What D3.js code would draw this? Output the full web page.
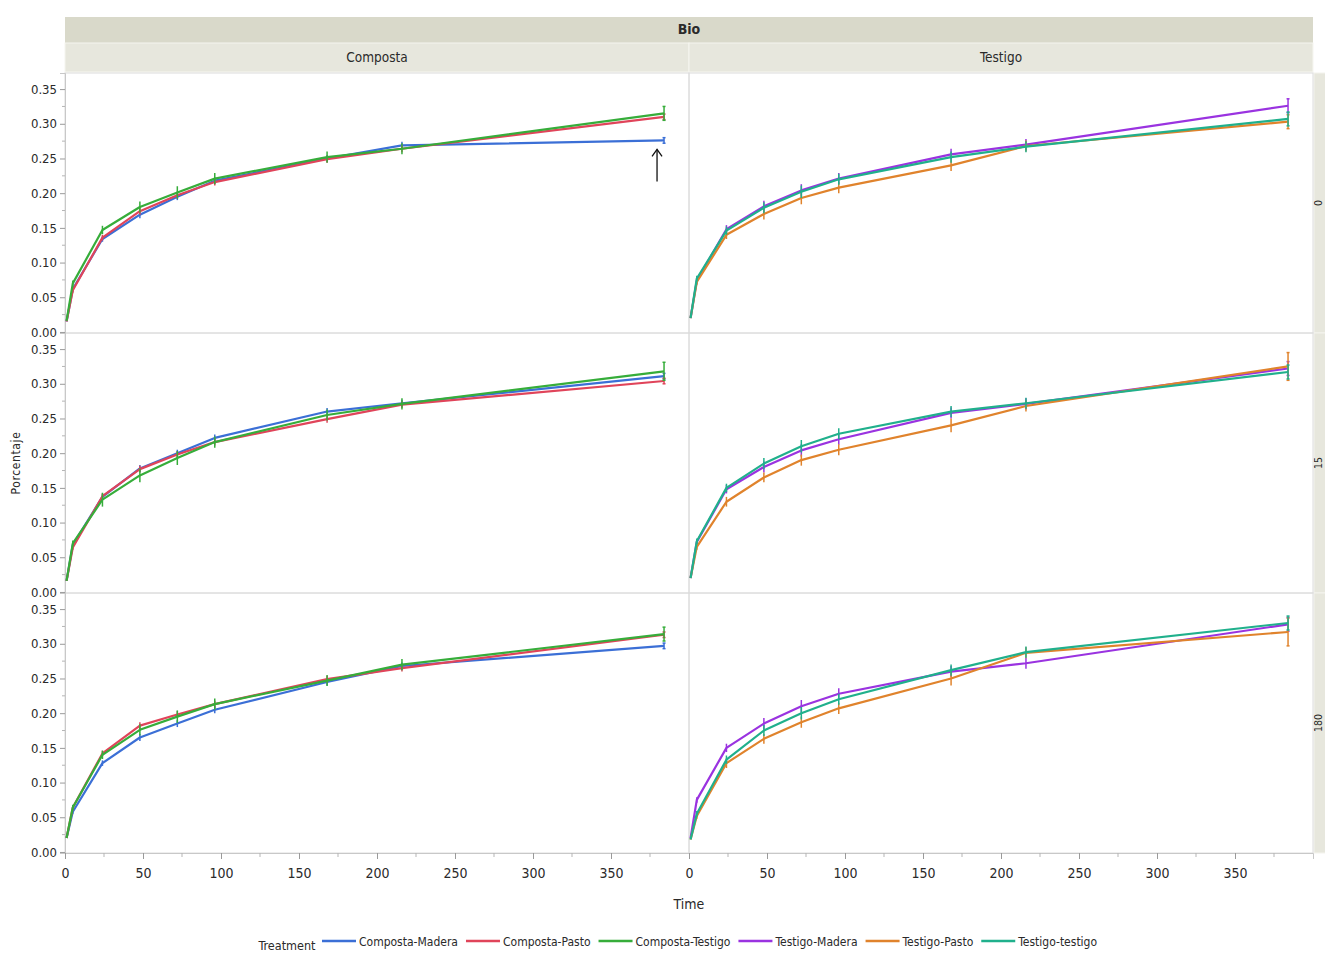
<!DOCTYPE html>
<html>
<head>
<meta charset="utf-8">
<script src="https://cdn.jsdelivr.net/npm/d3@7"></script>
<style>
  html, body { margin: 0; padding: 0; background: #fff; }
  svg text { font-family: "DejaVu Sans Condensed", "Liberation Sans Narrow", "DejaVu Sans", sans-serif; fill: #2a2a2a; }
</style>
</head>
<body>
<svg id="chart" width="1325" height="954"></svg>
<script>
// Sampling times (hours) shared by every series
const times = [1, 5, 24, 48, 72, 96, 168, 216, 384];

const groupTitle = "Bio";
const columns = ["Composta", "Testigo"];
const rows = ["0", "15", "180"];
const treatments = ["Composta-Madera", "Composta-Pasto", "Composta-Testigo",
                    "Testigo-Madera", "Testigo-Pasto", "Testigo-testigo"];
const treatmentColors = ["#3b6fd6", "#e0445a", "#36ad3a", "#9a33e0", "#e0832c", "#20b08c"];

const yTicks = [0, 0.05, 0.10, 0.15, 0.20, 0.25, 0.30, 0.35];
const xTicks = [0, 50, 100, 150, 200, 250, 300, 350];

// Mean values per panel (row "0")
const c0Madera  = [0.015, 0.062, 0.134, 0.169, 0.195, 0.218, 0.250, 0.269, 0.276];
const c0Pasto   = [0.015, 0.060, 0.136, 0.174, 0.197, 0.216, 0.249, 0.264, 0.310];
const c0Testigo = [0.016, 0.070, 0.147, 0.180, 0.201, 0.221, 0.252, 0.264, 0.315];
const t0Madera  = [0.020, 0.074, 0.148, 0.181, 0.204, 0.221, 0.256, 0.270, 0.326];
const t0Pasto   = [0.020, 0.072, 0.140, 0.170, 0.193, 0.208, 0.240, 0.268, 0.303];
const t0Testigo = [0.020, 0.077, 0.146, 0.179, 0.202, 0.220, 0.252, 0.267, 0.307];
// row "15"
const c15Madera  = [0.016, 0.068, 0.137, 0.178, 0.200, 0.222, 0.260, 0.272, 0.311];
const c15Pasto   = [0.016, 0.064, 0.138, 0.177, 0.198, 0.216, 0.249, 0.270, 0.304];
const c15Testigo = [0.016, 0.070, 0.133, 0.168, 0.193, 0.216, 0.255, 0.271, 0.318];
const t15Madera  = [0.020, 0.072, 0.148, 0.180, 0.204, 0.220, 0.258, 0.271, 0.322];
const t15Pasto   = [0.020, 0.065, 0.130, 0.165, 0.190, 0.205, 0.240, 0.268, 0.325];
const t15Testigo = [0.020, 0.073, 0.150, 0.185, 0.210, 0.228, 0.260, 0.272, 0.317];
// row "180"
const c180Madera  = [0.020, 0.058, 0.128, 0.165, 0.185, 0.205, 0.245, 0.268, 0.297];
const c180Pasto   = [0.020, 0.064, 0.142, 0.182, 0.198, 0.213, 0.249, 0.265, 0.313];
const c180Testigo = [0.020, 0.064, 0.140, 0.176, 0.195, 0.213, 0.247, 0.270, 0.314];
const t180Madera  = [0.020, 0.075, 0.150, 0.185, 0.210, 0.228, 0.260, 0.272, 0.328];
const t180Pasto   = [0.018, 0.052, 0.128, 0.163, 0.187, 0.207, 0.250, 0.287, 0.317];
const t180Testigo = [0.018, 0.055, 0.133, 0.175, 0.200, 0.220, 0.262, 0.288, 0.330];

// Half-widths of the error bars
const errSmall = [0, 0.003, 0.004, 0.005, 0.005, 0.005, 0.005, 0.005, 0.004];
const errMid   = [0, 0.004, 0.006, 0.008, 0.009, 0.008, 0.008, 0.008, 0.010];
const errWide  = [0, 0.004, 0.010, 0.010, 0.010, 0.008, 0.008, 0.008, 0.013];
const errEnd   = [0, 0.004, 0.007, 0.007, 0.008, 0.008, 0.010, 0.008, 0.020];

// panel -> list of [treatment index, values, errors]
const panels = [
  { row: 0, col: 0, series: [[0, c0Madera, errSmall], [1, c0Pasto, errSmall], [2, c0Testigo, errMid]] },
  { row: 0, col: 1, series: [[3, t0Madera, errMid], [4, t0Pasto, errMid], [5, t0Testigo, errMid]] },
  { row: 1, col: 0, series: [[0, c15Madera, errSmall], [1, c15Pasto, errSmall], [2, c15Testigo, errWide]] },
  { row: 1, col: 1, series: [[3, t15Madera, errMid], [4, t15Pasto, errEnd], [5, t15Testigo, errMid]] },
  { row: 2, col: 0, series: [[0, c180Madera, errSmall], [1, c180Pasto, errSmall], [2, c180Testigo, errMid]] },
  { row: 2, col: 1, series: [[3, t180Madera, errMid], [4, t180Pasto, errEnd], [5, t180Testigo, errMid]] }
];

// ---- layout ----
const svg = d3.select("#chart");
const plotLeft = 65, panelW = 624, plotTop = 73, panelH = 260;
const bandTop = 17, bandMid = 43;
const stripX = plotLeft + 2 * panelW;

const x = d3.scaleLinear().domain([0, 400]).range([0, panelW]);
const y = d3.scaleLinear().domain([-0.0015, 0.3732]).range([panelH, 0]);

// header bands
svg.append("rect").attr("x", plotLeft).attr("y", bandTop).attr("width", 2 * panelW).attr("height", bandMid - bandTop)
  .attr("fill", "#d9d9ca");
svg.append("text").attr("x", plotLeft + panelW).attr("y", bandTop + 17).attr("text-anchor", "middle")
  .attr("font-size", 14).attr("font-weight", "bold").text(groupTitle);
columns.forEach((c, i) => {
  svg.append("rect").attr("x", plotLeft + i * panelW).attr("y", bandMid).attr("width", panelW).attr("height", plotTop - bandMid - 1)
    .attr("fill", "#e7e7dd").attr("stroke", "#f6f6f0").attr("stroke-width", 1);
  svg.append("text").attr("x", plotLeft + i * panelW + panelW / 2).attr("y", bandMid + 19).attr("text-anchor", "middle")
    .attr("font-size", 13.5).text(c);
});

// right strip with row labels (read bottom to top)
rows.forEach((r, i) => {
  svg.append("rect").attr("x", stripX + 1).attr("y", plotTop + i * panelH).attr("width", 20).attr("height", panelH)
    .attr("fill", "#e7e7dd").attr("stroke", "#f4f4ee");
  svg.append("text")
    .attr("transform", `translate(${stripX + 9},${plotTop + i * panelH + panelH / 2}) rotate(-90)`)
    .attr("text-anchor", "middle").attr("font-size", 10.5).text(r);
});

// panel frames
for (let r = 0; r < rows.length; r++) {
  for (let c = 0; c < columns.length; c++) {
    svg.append("rect").attr("x", plotLeft + c * panelW).attr("y", plotTop + r * panelH)
      .attr("width", panelW).attr("height", panelH)
      .attr("fill", "none").attr("stroke", "#dcdcdc").attr("stroke-width", 1);
  }
}

// y axes (one per row, left column only)
const yMinor = d3.range(0.025, 0.37, 0.05);
rows.forEach((r, i) => {
  const g = svg.append("g").attr("transform", `translate(${plotLeft},${plotTop + i * panelH})`);
  g.call(d3.axisLeft(y).tickValues(yTicks).tickFormat(d3.format(".2f")).tickSize(5).tickPadding(3));
  g.select(".domain").attr("stroke", "#c8c8c8");
  g.selectAll(".tick line").attr("stroke", "#9a9a9a");
  g.selectAll(".tick text").attr("font-size", 13).attr("fill", "#333");
  g.selectAll(".minor").data(yMinor).enter().append("line").attr("class", "minor")
    .attr("x1", -3).attr("x2", 0).attr("y1", d => y(d)).attr("y2", d => y(d)).attr("stroke", "#b5b5b5");
});

// x axes (both columns)
const xMinor = d3.range(25, 400, 50);
columns.forEach((c, i) => {
  const g = svg.append("g").attr("transform", `translate(${plotLeft + i * panelW},${plotTop + rows.length * panelH})`);
  g.call(d3.axisBottom(x).tickValues(xTicks).tickFormat(d3.format("d")).tickSize(6).tickPadding(9));
  g.select(".domain").attr("stroke", "#c8c8c8");
  g.selectAll(".tick line").attr("stroke", "#9a9a9a");
  g.selectAll(".tick text").attr("font-size", 14).attr("fill", "#333");
  g.selectAll(".minor").data(xMinor).enter().append("line").attr("class", "minor")
    .attr("x1", d => x(d)).attr("x2", d => x(d)).attr("y1", 0).attr("y2", 4).attr("stroke", "#b5b5b5");
});

// axis titles
svg.append("text").attr("x", plotLeft + panelW).attr("y", 909).attr("text-anchor", "middle")
  .attr("font-size", 14).text("Time");
svg.append("text").attr("transform", `translate(20,${plotTop + 1.5 * panelH}) rotate(-90)`)
  .attr("text-anchor", "middle").attr("font-size", 12).attr("letter-spacing", 0.6).text("Porcentaje");

// series
const line = d3.line().x(d => x(d.t)).y(d => y(d.v));
panels.forEach(p => {
  const g = svg.append("g").attr("transform", `translate(${plotLeft + p.col * panelW},${plotTop + p.row * panelH})`);
  p.series.forEach(([ti, vals, errs]) => {
    const pts = times.map((t, k) => ({ t, v: vals[k], e: errs[k] }));
    const color = treatmentColors[ti];
    g.append("path").datum(pts).attr("d", line).attr("fill", "none")
      .attr("stroke", color).attr("stroke-width", 2.2).attr("stroke-linejoin", "round");
    const eb = g.selectAll(null).data(pts.filter(d => d.e > 0)).enter().append("g");
    eb.append("line").attr("x1", d => x(d.t)).attr("x2", d => x(d.t))
      .attr("y1", d => y(d.v - d.e)).attr("y2", d => y(d.v + d.e))
      .attr("stroke", color).attr("stroke-width", 1.5);
    eb.filter(d => d.t === times[times.length - 1]).each(function (d) {
      const s = d3.select(this);
      [d.v - d.e, d.v + d.e].forEach(v => s.append("line")
        .attr("x1", x(d.t) - 1.5).attr("x2", x(d.t) + 1.5).attr("y1", y(v)).attr("y2", y(v))
        .attr("stroke", color).attr("stroke-width", 1.5));
    });
  });
});

// arrow pointing at the last Composta-Madera point in row "0"
{
  const ax = plotLeft + x(times[times.length - 1]) - 7;
  const ay = plotTop + y(c0Madera[c0Madera.length - 1]);
  svg.append("line").attr("x1", ax).attr("x2", ax).attr("y1", ay + 41).attr("y2", ay + 9)
    .attr("stroke", "#111").attr("stroke-width", 1.3);
  svg.append("path").attr("d", `M${ax - 5},${ay + 16} L${ax},${ay + 9} L${ax + 5},${ay + 16}`)
    .attr("fill", "none").attr("stroke", "#111").attr("stroke-width", 1.3);
}

// legend
{
  const ly = 946;
  const lg = svg.append("g");
  lg.append("text").attr("x", 287).attr("y", ly + 4).attr("text-anchor", "middle").attr("font-size", 12.5).text("Treatment");
  let cx = 322;
  treatments.forEach((t, i) => {
    lg.append("line").attr("x1", cx).attr("x2", cx + 34).attr("y1", ly - 5).attr("y2", ly - 5)
      .attr("stroke", treatmentColors[i]).attr("stroke-width", 2.5);
    const tx = lg.append("text").attr("x", cx + 37).attr("y", ly).attr("font-size", 12).text(t);
    cx += 37 + tx.node().getComputedTextLength() + 8;
  });
}
</script>
</body>
</html>
